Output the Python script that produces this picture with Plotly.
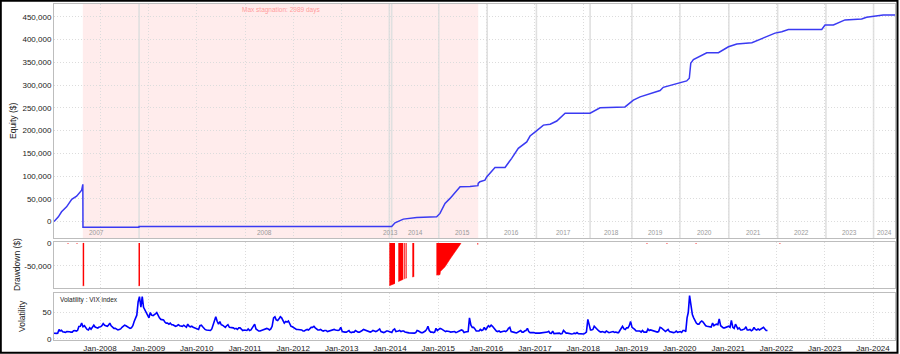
import plotly.graph_objects as go
import pandas as pd

# ---------------- data ----------------
equity_points = [
    ("2007-01-18", 0), ("2007-02-20", 10500), ("2007-03-16", 21500), ("2007-04-23", 32500),
    ("2007-06-01", 49000), ("2007-07-08", 56000), ("2007-08-15", 69000), ("2007-08-24", 82000),
    ("2007-08-25", -12500), ("2008-10-21", -12500), ("2008-10-22", -10500), ("2013-12-27", -10500),
    ("2014-01-14", -10500), ("2014-02-08", -2600), ("2014-02-23", -1000), ("2014-04-12", 5500),
    ("2014-07-22", 9000), ("2014-12-20", 10500), ("2015-01-14", 18000), ("2015-02-21", 40000),
    ("2015-03-31", 51000), ("2015-06-15", 76500), ("2015-08-29", 77000), ("2015-10-28", 79000),
    ("2015-10-30", 84000), ("2015-11-12", 87500), ("2015-12-20", 91000), ("2016-01-02", 98000),
    ("2016-03-05", 119000), ("2016-05-20", 119000), ("2016-07-09", 139000), ("2016-08-28", 161000),
    ("2016-10-31", 175000), ("2016-11-25", 188000), ("2017-01-15", 200000), ("2017-03-06", 212000),
    ("2017-04-26", 214000), ("2017-06-15", 221000), ("2017-08-17", 238000), ("2018-02-22", 238000),
    ("2018-05-08", 250000), ("2018-10-06", 252000), ("2018-11-13", 252000), ("2019-01-15", 267000),
    ("2019-03-07", 274000), ("2019-08-05", 288000), ("2019-08-29", 295000), ("2020-02-22", 309000),
    ("2020-03-13", 315000), ("2020-03-24", 348000), ("2020-04-13", 356000), ("2020-07-23", 371000),
    ("2020-10-19", 371000), ("2021-01-03", 384000), ("2021-03-07", 390000), ("2021-06-29", 393000),
    ("2021-09-24", 403000), ("2021-12-21", 414000), ("2022-02-10", 417000), ("2022-04-01", 422000),
    ("2022-12-09", 422000), ("2023-01-03", 432000), ("2023-03-07", 432000), ("2023-04-14", 437000),
    ("2023-06-03", 443000), ("2023-10-07", 445000), ("2023-11-13", 449000), ("2024-03-18", 454000),
    ("2024-06-15", 454000),
]

# first trade date of each year (segment separators) and their labels
year_starts = ["2007-01-18", "2008-10-22", "2013-12-27", "2014-01-14", "2015-01-05", "2016-01-06",
               "2017-01-12", "2018-02-22", "2019-01-04", "2020-01-02", "2021-01-06", "2022-01-10",
               "2023-01-10", "2024-01-05"]
year_labels = ["2007", "2008", "2013", "2014", "2015", "2016", "2017", "2018", "2019", "2020",
               "2021", "2022", "2023", "2024"]

stagnation_start = "2007-08-24"
stagnation_end = "2015-10-30"
stagnation_days = 2989

# drawdown episodes: each a list of (date, drawdown $)
drawdown_episodes = [
    [("2007-05-01", -1200), ("2007-05-07", -1200)],
    [("2007-07-08", -1200), ("2007-07-14", -1200)],
    [("2007-08-23", -93000), ("2007-09-03", -93000)],
    [("2008-10-18", -93000), ("2008-10-29", -93000)],
    [("2013-12-27", -93000), ("2014-01-20", -91000), ("2014-02-08", -88000)],
    [("2014-03-05", -84000), ("2014-04-12", -79000)],
    [("2014-04-19", -78000), ("2014-04-27", -77000)],
    [("2014-05-01", -77000), ("2014-05-07", -76000)],
    [("2014-06-19", -74000), ("2014-07-03", -73000)],
    [("2014-12-18", -70000), ("2015-01-14", -69000), ("2015-01-17", -62000), ("2015-02-21", -52000),
     ("2015-03-31", -35000), ("2015-05-08", -18000), ("2015-06-21", -1000)],
    [("2015-10-24", -3000), ("2015-10-30", -3000)],
    [("2019-04-25", -1200), ("2019-05-01", -1200)],
    [("2019-09-23", -1200), ("2019-09-29", -1200)],
    [("2020-04-30", -1200), ("2020-05-06", -1200)],
    [("2022-01-24", -1200), ("2022-01-30", -1200)],
]

# VIX index, three readings per month (early / mid / late), Jan-2007 .. Oct-2021
vix_2007 = [11, 10.5, 11, 10.5, 10.8, 18, 15, 16.5, 13.5, 13, 12.5, 14, 13, 13.5, 13, 13, 15.5, 16,
            15, 16, 23.5, 24, 30, 23, 25, 21, 18, 17, 21, 18.5, 23, 26, 22.5, 21, 20.5, 22.5]
vix_2008 = [23, 25, 29, 26, 25, 24, 26, 30, 25, 22, 20, 20, 18, 17, 18, 19, 22, 24,
            26, 25, 23, 21, 20, 21, 25, 33, 38, 45, 70, 80, 60, 80, 60, 55, 48, 44]
vix_2009 = [40, 50, 45, 44, 47, 48, 50, 44, 40, 37, 36, 36, 32, 30, 30, 28, 30, 27,
            27, 25, 24, 25, 27, 25, 25, 24, 26, 24, 22, 28, 24, 23, 24, 22, 21, 21]
vix_2010 = [19, 18, 25, 26, 23, 20, 18, 17, 17, 16, 16, 19, 28, 35, 42, 33, 28, 33,
            27, 26, 24, 22, 25, 27, 22, 22, 22, 21, 19, 20, 18, 21, 21, 18, 16, 17]
vix_2011 = [17, 16, 19, 16, 17, 21, 22, 28, 19, 17, 15, 15, 16, 17, 17, 18, 20, 19,
            17, 19, 24, 40, 42, 36, 35, 38, 42, 40, 33, 30, 33, 32, 34, 28, 24, 23]
vix_2012 = [21, 20, 18, 18, 18, 18, 17, 15, 15, 17, 18, 17, 19, 22, 22, 24, 21, 18,
            17, 17, 18, 16, 15, 16, 16, 14, 15, 15, 16, 18, 18, 17, 16, 16, 17, 22]
vix_2013 = [14, 13, 13, 13, 14, 16, 13, 12, 13, 13, 16, 14, 13, 13, 14, 16, 18, 17,
            15, 14, 13, 13, 14, 16, 15, 14, 15, 18, 19, 14, 13, 12, 13, 15, 15, 14]
vix_2014 = [13, 12, 17, 19, 14, 14, 15, 16, 14, 15, 15, 13, 13, 12, 11.5, 11, 11, 11.5,
            11, 12, 16, 15, 13, 12, 12, 13, 15, 18, 24, 16, 13, 13, 12, 13, 20, 16]
vix_2015 = [19, 20, 19, 17, 15, 14, 15, 15, 14, 13, 13, 13, 14, 12, 13, 14, 16, 17,
            16, 12, 13, 13, 14, 40, 26, 22, 22, 19, 15, 15, 15, 18, 16, 17, 22, 17]
vix_2016 = [22, 25, 23, 26, 24, 20, 17, 15, 14, 15, 13, 14, 15, 15, 14, 16, 20, 22,
            14, 13, 12, 12, 11.5, 13, 15, 16, 13, 13, 15, 16, 20, 14, 12, 12, 12.5, 12]
vix_2017 = [11, 11.5, 11, 11, 11.5, 12, 11.5, 12, 12, 13, 14.5, 10.8, 10.5, 15, 10, 10.5, 10.5, 10.5,
            11, 9.5, 10, 16, 14, 11, 11, 10, 9.5, 9.5, 10, 11, 10, 12, 10, 10, 10, 10.5]
vix_2018 = [9.5, 11, 13, 37, 25, 17, 17, 18, 24, 21, 17, 16, 14, 13, 14, 13, 12, 15,
            13, 12, 12.5, 13, 14, 12.5, 13, 12, 12, 16, 20, 24, 19, 18, 21, 21, 25, 33]
vix_2019 = [22, 19, 18, 15, 15, 14, 15, 13, 16, 13, 12.5, 13, 19, 16, 17, 16, 15, 15,
            13, 13, 14, 22, 21, 19, 16, 14, 16, 18, 14, 13, 12.5, 12, 12.5, 15, 12.5, 13]
vix_2020 = [14, 12.5, 16, 16, 14, 40, 50, 82, 62, 46, 40, 34, 30, 28, 28, 32, 34, 32,
            28, 25, 24, 23, 22, 22.5, 30, 25, 27, 28, 27, 38, 25, 23, 21, 21, 22, 22]
vix_2021 = [24, 22, 35, 22, 20, 28, 24, 19, 21, 17, 17, 18, 19, 23, 17, 17, 18, 15.5,
            17, 22, 18, 17, 19, 17, 19, 20, 22, 19, 16, 16]

# ---------------- preparation ----------------
eq_x = [d for d, _ in equity_points]
eq_y = [v for _, v in equity_points]

vix_values = (vix_2007 + vix_2008 + vix_2009 + vix_2010 + vix_2011 + vix_2012 + vix_2013 +
              vix_2014 + vix_2015 + vix_2016 + vix_2017 + vix_2018 + vix_2019 + vix_2020 + vix_2021)
months = pd.date_range("2007-01-01", periods=len(vix_values) // 3, freq="MS")
vix_dates = []
for m in months:
    for day in (5, 15, 25):
        vix_dates.append(m + pd.Timedelta(days=day - 1))

x_range = ["2007-01-18", "2024-06-15"]

# ---------------- figure ----------------
FONT = "Liberation Sans, Arial, sans-serif"
GRID = "#dcdcdc"
FRAME = "#bdbdbd"
DOT = "1px,2px"

fig = go.Figure()
fig.add_trace(go.Scatter(x=eq_x, y=eq_y, mode="lines", line=dict(color="#3a3af2", width=1.5),
                         xaxis="x", yaxis="y", hoverinfo="skip", showlegend=False))
for ep in drawdown_episodes:
    fig.add_trace(go.Scatter(x=[d for d, _ in ep], y=[v for _, v in ep], mode="lines",
                             line=dict(color="#ff0000", width=0.6), fill="tozeroy",
                             fillcolor="#ff0000", xaxis="x2", yaxis="y2", hoverinfo="skip",
                             showlegend=False))
fig.add_trace(go.Scatter(x=vix_dates, y=vix_values, mode="lines", line=dict(color="#0000ff", width=1.6),
                         xaxis="x3", yaxis="y3", hoverinfo="skip", showlegend=False))

xcommon = dict(type="date", range=x_range, showgrid=True, gridcolor=GRID, griddash=DOT, gridwidth=1,
               tick0="2008-01-01", dtick="M12", showline=True, mirror=True, linecolor=FRAME,
               linewidth=1, ticks="", zeroline=False, automargin=False,
               tickfont=dict(family=FONT, size=8, color="#222"))
ycommon = dict(showgrid=True, gridcolor=GRID, griddash=DOT, gridwidth=1, showline=True, mirror=True,
               linecolor=FRAME, linewidth=1, ticks="", zeroline=False, automargin=False,
               tickfont=dict(family=FONT, size=8, color="#222"))

H_PLOT = 336.0
def dom(top_px, bot_px):
    return [(340 - bot_px) / H_PLOT, (340 - top_px) / H_PLOT]

eq_ticks = list(range(0, 450001, 50000))
fig.update_layout(
    xaxis=dict(xcommon, anchor="y", showticklabels=False),
    xaxis2=dict(xcommon, anchor="y2", matches="x", showticklabels=False),
    xaxis3=dict(xcommon, anchor="y3", matches="x", tickformat="%b-%Y"),
    yaxis=dict(ycommon, domain=dom(4, 238), range=[-36000, 478000], tickvals=eq_ticks,
               ticktext=[f"{v:,}" for v in eq_ticks]),
    yaxis2=dict(ycommon, domain=dom(242, 288), range=[-98000, 2000], tickvals=[0, -50000],
                ticktext=["0", "-50,000"]),
    yaxis3=dict(ycommon, domain=dom(293, 340), range=[-2, 87], tickvals=[0, 50],
                ticktext=["0", "50"]),
    margin=dict(l=54, r=5, t=4, b=14),
    width=900, height=354,
    paper_bgcolor="white", plot_bgcolor="white",
    template="none",
    showlegend=False,
)

shapes = []
# stagnation shading
shapes.append(dict(type="rect", xref="x", yref="y domain", x0=stagnation_start, x1=stagnation_end,
                   y0=0, y1=1, fillcolor="#ffecec", line=dict(width=0), layer="below"))
# year separators
for d in year_starts[1:]:
    shapes.append(dict(type="line", xref="x", yref="y domain", x0=d, x1=d, y0=0, y1=1,
                       line=dict(color="#e0e0e0", width=1.6), layer="below"))
# outer black frame
PW = 841.0
shapes.append(dict(type="rect", xref="paper", yref="paper",
                   x0=(0.8 - 54) / PW, x1=(897.5 - 54) / PW,
                   y0=(340 - 352.8) / H_PLOT, y1=(340 - 0.8) / H_PLOT,
                   line=dict(color="black", width=2), fillcolor="rgba(0,0,0,0)", layer="above"))
fig.update_layout(shapes=shapes)

annotations = []
# year labels centred in each trade-year segment
starts = [pd.Timestamp(d) for d in year_starts] + [pd.Timestamp(x_range[1])]
for i, lab in enumerate(year_labels):
    mid = starts[i] + (starts[i + 1] - starts[i]) / 2
    annotations.append(dict(x=mid, y=(340 - 232.8) / H_PLOT, xref="x", yref="paper", text=lab,
                            showarrow=False, xanchor="center", yanchor="middle",
                            font=dict(family=FONT, size=6.5, color="#9a9a9a")))
s0, s1 = pd.Timestamp(stagnation_start), pd.Timestamp(stagnation_end)
annotations.append(dict(x=s0 + (s1 - s0) / 2, y=(340 - 10) / H_PLOT, xref="x", yref="paper",
                        text=f"Max stagnation: {stagnation_days} days", showarrow=False,
                        xanchor="center", yanchor="middle",
                        font=dict(family=FONT, size=6.5, color="#ff9c9c")))
annotations.append(dict(x=(58 - 54) / PW, y=(340 - 299.5) / H_PLOT, xref="paper", yref="paper",
                        text="Volatility : VIX index", showarrow=False, xanchor="left", yanchor="middle",
                        font=dict(family=FONT, size=6.5, color="#222")))
for txt, xp, yp in [("Equity ($)", 13, 121), ("Drawdown ($)", 17, 265), ("Volatility", 22, 316)]:
    annotations.append(dict(x=(xp - 54) / PW, y=(340 - yp) / H_PLOT, xref="paper", yref="paper",
                            text=txt, showarrow=False, textangle=-90, xanchor="center", yanchor="middle",
                            font=dict(family=FONT, size=8.5, color="#222")))
fig.update_layout(annotations=annotations)

fig.write_html("out.html")
